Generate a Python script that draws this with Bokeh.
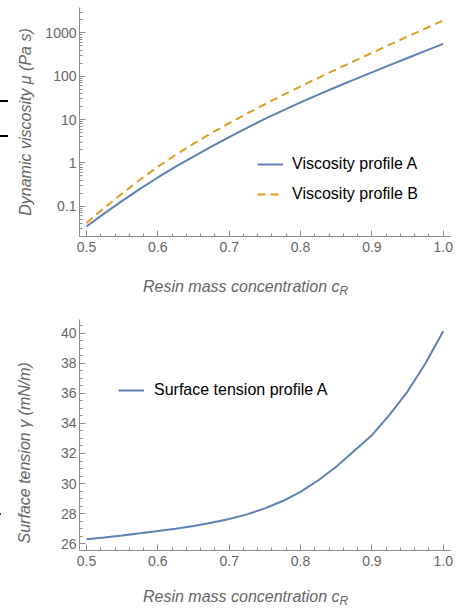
from bokeh.plotting import figure
from bokeh.layouts import column
from bokeh.models import (Range1d, FixedTicker, PrintfTickFormatter, Legend,
                          LegendItem, Div)
from bokeh.embed import file_html
from bokeh.resources import INLINE

# ---------------- data ----------------
conc = [0.5, 0.525, 0.55, 0.575, 0.6, 0.625, 0.65, 0.675, 0.7, 0.725, 0.75,
        0.775, 0.8, 0.825, 0.85, 0.875, 0.9, 0.925, 0.95, 0.975, 1.0]
visc_a = [0.0339, 0.0684, 0.133, 0.251, 0.460, 0.818, 1.40, 2.37, 3.94, 6.42,
          10.3, 16.1, 24.8, 37.6, 56.2, 83.2, 122, 180, 263, 384, 556]
visc_b = [0.0410, 0.0918, 0.197, 0.408, 0.814, 1.53, 2.77, 4.85, 8.23, 13.7,
          22.5, 36.5, 58.1, 91.6, 143, 222, 344, 532, 818, 1256, 1923]
tension_a = [26.30, 26.42, 26.55, 26.69, 26.84, 27.00, 27.18, 27.39, 27.64,
             27.95, 28.35, 28.84, 29.45, 30.22, 31.12, 32.16, 33.22, 34.58,
             36.12, 37.98, 40.13]

x_ticks = [0.5, 0.6, 0.7, 0.8, 0.9, 1.0]
visc_ticks = [0.1, 1, 10, 100, 1000]
tension_ticks = [26, 28, 30, 32, 34, 36, 38, 40]

x_title = "Resin mass concentration c"
x_title_sub = "R"
visc_title = "Dynamic viscosity \u03bc (Pa s)"
tension_title = "Surface tension \u03b3 (mN/m)"

# ---------------- style ----------------
FONT = "Liberation Sans"
BLUE = "#5E81B5"
ORANGE = "#E19C24"
AXIS = "#8c8c8c"
TXT = "#666666"


def style(p):
    p.outline_line_color = None
    p.xgrid.visible = False
    p.ygrid.visible = False
    for ax in (p.xaxis[0], p.yaxis[0]):
        ax.axis_line_color = AXIS
        ax.major_tick_line_color = AXIS
        ax.minor_tick_line_color = AXIS
        ax.major_tick_in = 6
        ax.major_tick_out = 0
        ax.minor_tick_in = 3
        ax.minor_tick_out = 0
        ax.major_label_text_font = FONT
        ax.major_label_text_font_size = "14px"
        ax.major_label_text_color = TXT
        ax.axis_label_text_font = FONT
        ax.axis_label_text_font_style = "italic"
        ax.axis_label_text_font_size = "16px"
        ax.axis_label_text_color = TXT
    p.xaxis[0].major_label_standoff = 5
    p.yaxis[0].major_label_standoff = 3
    p.xaxis[0].ticker = FixedTicker(
        ticks=x_ticks,
        minor_ticks=[round(0.5 + 0.02 * i, 2) for i in range(0, 26)])
    p.xaxis[0].formatter = PrintfTickFormatter(format="%.1f")


def xlabel_div(pad_top, height, marks=""):
    html = ('<div style="position:relative; margin:0; padding:%dpx 0 0 143px; '
            'line-height:16px; white-space:nowrap; '
            'font-family:\'Liberation Sans\'; font-style:italic; '
            'font-size:16px; color:%s;">%s'
            '<span style="font-size:12px; position:relative; top:3px;">%s'
            '</span>%s</div>' % (pad_top, TXT, x_title, x_title_sub, marks))
    return Div(text=html, width=466, height=height, margin=(0, 0, 0, 0))


def mark(top):
    return ('<span style="position:absolute; left:0; top:%dpx; width:8px; '
            'height:1.5px; background:#000;"></span>' % top)


# ---------------- top: viscosity ----------------
p1 = figure(output_backend="svg", toolbar_location=None, y_axis_type="log",
            x_range=Range1d(0.4902, 1.0102), y_range=Range1d(0.02, 3840))
p1.frame_width = 371
p1.frame_height = 229
p1.min_border_left = 79
p1.min_border_right = 16
p1.min_border_top = 7
p1.min_border_bottom = 30
style(p1)
p1.yaxis[0].ticker = FixedTicker(
    ticks=visc_ticks,
    minor_ticks=[m * 10.0 ** k for k in range(-2, 4) for m in range(1, 10)])
p1.yaxis[0].formatter = PrintfTickFormatter(format="%g")
p1.yaxis[0].axis_label = visc_title
p1.yaxis[0].axis_label_standoff = 8

ra = p1.line(conc, visc_a, line_color=BLUE, line_width=2)
rb = p1.line(conc, visc_b, line_color=ORANGE, line_width=2, line_dash="8 5")
leg1 = Legend(items=[LegendItem(label="Viscosity profile A", renderers=[ra]),
                     LegendItem(label="Viscosity profile B", renderers=[rb])],
              location=(178, 32), border_line_color=None,
              background_fill_alpha=0, padding=0, margin=0, spacing=10,
              glyph_width=26, glyph_height=20, label_height=20,
              label_standoff=9, label_text_font=FONT,
              label_text_font_size="16px", label_text_color="#000000")
p1.add_layout(leg1)

# ---------------- bottom: surface tension ----------------
p2 = figure(output_backend="svg", toolbar_location=None,
            x_range=Range1d(0.4902, 1.0102), y_range=Range1d(25.55, 40.91))
p2.frame_width = 371
p2.frame_height = 231
p2.min_border_left = 79
p2.min_border_right = 16
p2.min_border_top = 19
p2.min_border_bottom = 30
style(p2)
p2.yaxis[0].ticker = FixedTicker(
    ticks=tension_ticks,
    minor_ticks=[25.5 + 0.5 * i for i in range(0, 31)])
p2.yaxis[0].formatter = PrintfTickFormatter(format="%d")
# trailing no-break spaces shift the centred title down, as in the reference
p2.yaxis[0].axis_label = tension_title + "\u00a0" * 8
p2.yaxis[0].axis_label_standoff = 25

rt = p2.line(conc, tension_a, line_color=BLUE, line_width=2)
leg2 = Legend(items=[LegendItem(label="Surface tension profile A",
                                renderers=[rt])],
              location=(39, 150), border_line_color=None,
              background_fill_alpha=0, padding=0, margin=0,
              glyph_width=26, glyph_height=20, label_height=20,
              label_standoff=10, label_text_font=FONT,
              label_text_font_size="16px", label_text_color="#000000")
p2.add_layout(leg2)

layout = column(p1,
                xlabel_div(13, 34, mark(-166) + mark(-131) + mark(247)),
                p2,
                xlabel_div(9, 26),
                spacing=0)
open("out.html", "w").write(file_html(layout, INLINE))
